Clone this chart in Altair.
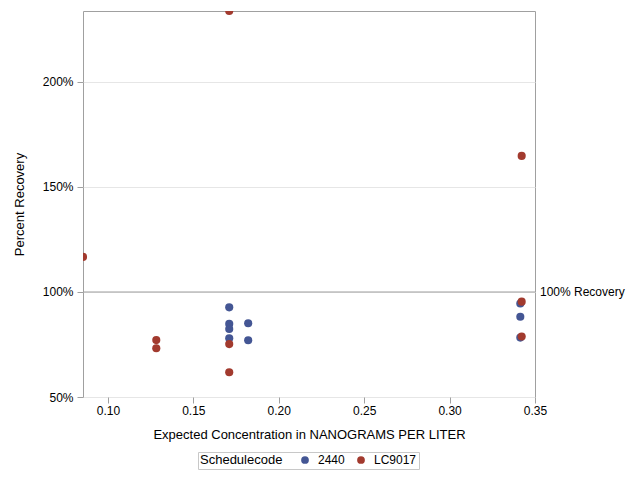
import altair as alt
import pandas as pd

# ---- data ----
codes_2440 = ["2440"] * 9
x_2440 = [0.171, 0.171, 0.171, 0.171, 0.1821, 0.1821, 0.3414, 0.3414, 0.3414]
y_2440 = [92.7, 84.8, 82.4, 78.0, 85.1, 77.0, 94.5, 88.2, 78.3]

codes_lc = ["LC9017"] * 9
x_lc = [0.0854, 0.1283, 0.1283, 0.171, 0.171, 0.171, 0.3422, 0.3422, 0.3422]
y_lc = [116.7, 77.1, 73.2, 233.8, 75.2, 61.8, 164.8, 95.4, 78.8]

series = ["2440", "LC9017"]
colors = ["#445694", "#A23A2E"]
x_ticks = [0.10, 0.15, 0.20, 0.25, 0.30, 0.35]
y_ticks = [50, 100, 150, 200]
x_domain = [0.0854, 0.35]
y_domain = [50, 233.8]
ref_value = [100]
ref_label = ["100% Recovery"]

df = pd.DataFrame({
    "Schedulecode": codes_2440 + codes_lc,
    "x": x_2440 + x_lc,
    "y": y_2440 + y_lc,
})
ref_df = pd.DataFrame({"x": [x_domain[1]], "y": ref_value, "label": ref_label})

FONT = "Liberation Sans"
FRAME = "#a0a0a0"

xscale = alt.Scale(domain=x_domain, nice=False, zero=False)
yscale = alt.Scale(domain=y_domain, nice=False, zero=False)

points = alt.Chart(df).mark_circle(size=66, opacity=1, clip=True).encode(
    x=alt.X("x:Q", scale=xscale,
            axis=alt.Axis(title="Expected Concentration in NANOGRAMS PER LITER",
                          values=x_ticks, format=".2f", grid=False,
                          labelFlush=False,
                          tickSize=6, labelPadding=2, titlePadding=12)),
    y=alt.Y("y:Q", scale=yscale,
            axis=alt.Axis(title="Percent Recovery", values=y_ticks,
                          labelExpr="datum.value + '%'", grid=True,
                          labelFlush=False,
                          gridColor="#e6e6e6", tickSize=6, labelPadding=4,
                          titlePadding=16)),
    color=alt.Color("Schedulecode:N",
                    scale=alt.Scale(domain=series, range=colors),
                    legend=alt.Legend(title="Schedulecode", orient="none",
                                      legendX=115, legendY=441,
                                      direction="horizontal", titleOrient="left",
                                      titlePadding=16, padding=2,
                                      strokeColor="#c8c8c8",
                                      symbolType="circle", symbolSize=60,
                                      labelOffset=7, columnPadding=10,
                                      titleFontSize=13, labelFontSize=12,
                                      titleLineHeight=13,
                                      titleFontWeight="normal",
                                      titleBaseline="middle",
                                      titleColor="#000", labelColor="#000")),
)

rule = alt.Chart(ref_df).mark_rule(color=FRAME, strokeWidth=1).encode(
    y=alt.Y("y:Q", scale=yscale)
)

label = alt.Chart(ref_df).mark_text(align="left", baseline="middle", dx=5,
                                    fontSize=12, font=FONT, color="#000").encode(
    x=alt.X("x:Q", scale=xscale),
    y=alt.Y("y:Q", scale=yscale),
    text="label:N",
)

chart = alt.layer(rule, points, label).properties(
    width=452, height=386,
    padding={"left": 5, "top": 3, "right": 5, "bottom": 5},
).configure(
    font=FONT,
).configure_view(
    stroke=FRAME, strokeWidth=1,
).configure_axis(
    domain=False, tickColor=FRAME, labelFontSize=12, titleFontSize=13,
    labelColor="#000", titleColor="#000", titleFontWeight="normal",
    labelFont=FONT, titleFont=FONT,
)

chart.save("out.html", embed_options={"renderer": "svg", "actions": False})
